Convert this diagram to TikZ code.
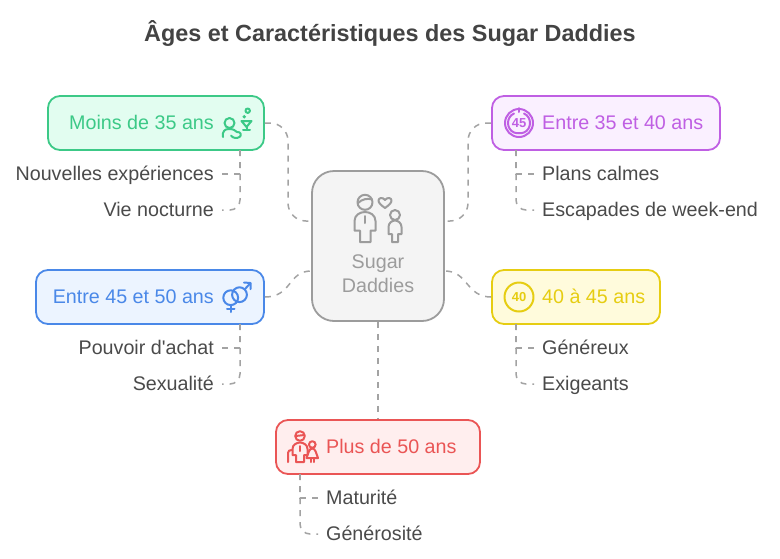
\documentclass[tikz,border=0pt]{standalone}
\usepackage{fontspec}
\setmainfont{Liberation Sans}
\definecolor{encre}{HTML}{4A4A4A}
\definecolor{trait}{HTML}{A3A3A3}
\definecolor{gris}{HTML}{9C9C9C}
\definecolor{grisfond}{HTML}{F4F4F4}
\definecolor{vert}{HTML}{3CC987}
\definecolor{vertfond}{HTML}{E2FDF0}
\definecolor{violet}{HTML}{BF5FE3}
\definecolor{violetfond}{HTML}{FAF0FF}
\definecolor{bleu}{HTML}{4A88E8}
\definecolor{bleufond}{HTML}{ECF4FF}
\definecolor{jaune}{HTML}{E6CD12}
\definecolor{jaunefond}{HTML}{FFFBDC}
\definecolor{rouge}{HTML}{EA5555}
\definecolor{rougefond}{HTML}{FFEEEE}
\tikzset{%
  agebox/.style  = {shape=rectangle, rounded corners=12pt, draw, line width=1.8pt,%
                    minimum height=54pt, inner sep=0pt},%
  agetext/.style = {font=\fontsize{19.7}{24}\selectfont, inner sep=0pt,%
                    text height=14pt, text depth=4pt},%
  attrib/.style  = {agetext, text=encre, inner xsep=8pt},%
  link/.style    = {draw=trait, line width=1.5pt, dash pattern=on 6pt off 6pt},%
  icon/.style    = {line width=2pt, line join=round, line cap=round}%
}
\begin{document}
\begin{tikzpicture}[x=1pt,y=-1pt]
	\useasboundingbox (0,0) rectangle (780,558);
	\node [font=\bfseries\fontsize{23.4}{28}\selectfont, text=encre!90!black, inner sep=0pt] (titre) at (390,33) {Âges et Caractéristiques des Sugar Daddies};

	% boxes
	\node [agebox, draw=gris, fill=grisfond, rounded corners=22pt, minimum width=132pt, minimum height=150pt] (centre) at (378,246) {};
	\node [agebox, draw=vert, fill=vertfond, minimum width=216pt] (moins) at (156,123) {};
	\node [agebox, draw=violet, fill=violetfond, minimum width=228pt] (entreA) at (606,123) {};
	\node [agebox, draw=bleu, fill=bleufond, minimum width=228pt] (entreC) at (150,297) {};
	\node [agebox, draw=jaune, fill=jaunefond, minimum width=168pt] (entreB) at (576,297) {};
	\node [agebox, draw=rouge, fill=rougefond, minimum width=204pt] (plus) at (378,447) {};

	% labels
	\node [agetext, text=gris, align=center, text height=, text depth=] (centreT) at (378,274) {Sugar\\[0pt]Daddies};
	\node [agetext, text=vert, anchor=east] (moinsT) at (214,124) {Moins de 35 ans};
	\node [agetext, text=violet, anchor=west] (entreAT) at (542,124) {Entre 35 et 40 ans};
	\node [agetext, text=bleu, anchor=east] (entreCT) at (214,298) {Entre 45 et 50 ans};
	\node [agetext, text=jaune, anchor=west] (entreBT) at (542,298) {40 à 45 ans};
	\node [agetext, text=rouge, anchor=west] (plusT) at (326,448) {Plus de 50 ans};

	\node [attrib, anchor=east] (nouvelles) at (222,175) {Nouvelles expériences};
	\node [attrib, anchor=east] (vie) at (222,211) {Vie nocturne};
	\node [attrib, anchor=west] (plans) at (534,175) {Plans calmes};
	\node [attrib, anchor=west] (escapades) at (534,211) {Escapades de week-end};
	\node [attrib, anchor=east] (pouvoir) at (222,349) {Pouvoir d\textquotesingle achat};
	\node [attrib, anchor=east] (sexualite) at (222,385) {Sexualité};
	\node [attrib, anchor=west] (genereux) at (534,349) {Généreux};
	\node [attrib, anchor=west] (exigeants) at (534,385) {Exigeants};
	\node [attrib, anchor=west] (maturite) at (318,499) {Maturité};
	\node [attrib, anchor=west] (generosite) at (318,535) {Générosité};

	% links to the centre
	\coordinate (coudeA) at (288,221);
	\coordinate (coudeB) at (468,221);
	\draw [link, rounded corners=18pt] (moins.east) -| (coudeA) -- ([yshift=25pt]centre.west);
	\draw [link, rounded corners=18pt] (entreA.west) -| (coudeB) -- ([yshift=25pt]centre.east);
	\draw [link] (entreC.east) .. controls (292,297) and (288,271) .. ([yshift=-25pt]centre.west);
	\draw [link] (entreB.west) .. controls (466,297) and (468,271) .. ([yshift=-25pt]centre.east);
	\draw [link] (centre.south) -- (plus.north);

	% links to the attributes
	\coordinate (troncA) at (240,150);
	\coordinate (troncB) at (516,150);
	\coordinate (troncC) at (240,324);
	\coordinate (troncD) at (516,324);
	\coordinate (troncE) at (300,474);
	\foreach \tronc/\haut/\bas/\cote in {troncA/nouvelles/vie/east,troncB/plans/escapades/west,troncC/pouvoir/sexualite/east,troncD/genereux/exigeants/west,troncE/maturite/generosite/west}{
		\draw [link] (\tronc) |- ([yshift=1pt]\haut.\cote);
		\draw [link, rounded corners=10pt] (\tronc) |- ([yshift=1pt]\bas.\cote);
	}

	% icon, centre
	\begin{scope}[icon, draw=gris]
		\draw (365,202.3) circle (7.5);
		\draw (358,203) .. controls (362,199) and (368,198) .. (372,199.5);
		\draw (360,242) -- (370.5,242) -- (370.5,230.5) -- (375.5,230.5) -- (375.5,221) .. controls (375.5,215) and (370,212) .. (365,212) .. controls (360,212) and (354.5,215) .. (354.5,221) -- (354.5,230.5) -- (360,230.5) -- cycle;
		\draw (365,216) -- (365,223);
		\draw (385,208) .. controls (381,205) and (378.5,203) .. (378.5,200.5) .. controls (378.5,197.5) and (383,197) .. (385,200) .. controls (387,197) and (391.5,197.5) .. (391.5,200.5) .. controls (391.5,203) and (389,205) .. (385,208) -- cycle;
		\draw (395,215) circle (5);
		\draw (392,242) -- (398,242) -- (398,234) -- (401.5,234) -- (401.5,227) .. controls (401.5,223) and (398,220.5) .. (395,220.5) .. controls (392,220.5) and (388.5,223) .. (388.5,227) -- (388.5,234) -- (392,234) -- cycle;
	\end{scope}

	% icon, green
	\begin{scope}[icon, draw=vert]
		\draw (229.5,123) circle (5);
		\draw (223,137) .. controls (222,131) and (225,129) .. (229,129) .. controls (233,129) and (235,130) .. (237,132) .. controls (241,131.5) and (242,135.5) .. (239.5,137) .. controls (237,138.5) and (233,138.5) .. (231,135.5);
		\draw (241.5,121) -- (251.5,121) -- (246.5,127) -- cycle;
		\draw (246.5,127) -- (246.5,130);
		\draw (243,130) -- (250,130);
		\draw (247.7,110.7) circle (2.2);
		\fill [vert] (244.3,116.7) circle (1.9);
	\end{scope}

	% icon, purple
	\begin{scope}[icon, draw=violet]
		\draw (519,123) circle (14);
		\draw (514,113.5) .. controls (506,117) and (506,129) .. (514,132.5) .. controls (517,133.5) and (521,133.5) .. (524,132.5) .. controls (532,129) and (532,117) .. (524,113.5);
		\draw (519,108) -- (519,112);
		\node [font=\bfseries\fontsize{13}{14}\selectfont, text=violet, inner sep=0pt] (quarante) at (519,123.5) {45};
	\end{scope}

	% icon, blue
	\begin{scope}[icon, draw=bleu]
		\draw (230.7,297.7) circle (7.4);
		\draw (239.5,294.7) circle (7.4);
		\draw (245,289) -- (250.5,283);
		\draw (244,282.5) -- (250.5,283) -- (250.5,289);
		\draw (230.7,305) -- (230.7,312);
		\draw (227,308.5) -- (234.5,308.5);
	\end{scope}

	% icon, yellow
	\begin{scope}[icon, draw=jaune]
		\draw (519,297) circle (14.5);
		\node [font=\bfseries\fontsize{13}{14}\selectfont, text=jaune, inner sep=0pt] (cercle) at (519,297) {40};
	\end{scope}

	% icon, red
	\begin{scope}[icon, draw=rouge]
		\draw (300,436) circle (4.8);
		\draw (295.5,436) -- (304.5,435);
		\draw (296,462) -- (304,462) -- (304,455) -- (307.5,455) -- (307.5,449) .. controls (307.5,444.5) and (303,442.5) .. (300,442.5) .. controls (297,442.5) and (292.5,444.5) .. (292.5,449) -- (292.5,455) -- (296,455) -- cycle;
		\draw (300,446) -- (300,451);
		\draw (288,462) -- (288,453) .. controls (288,451) and (289.5,450) .. (291.5,450);
		\draw (312.3,444.5) circle (3.3);
		\draw (312.3,448.5) .. controls (309,448.5) and (308.5,453) .. (306.5,458) -- (318,458) .. controls (316,453) and (315.5,448.5) .. (312.3,448.5) -- cycle;
		\draw (310.5,458) -- (310.5,462);
		\draw (314,458) -- (314,462);
	\end{scope}
\end{tikzpicture}
\end{document}
